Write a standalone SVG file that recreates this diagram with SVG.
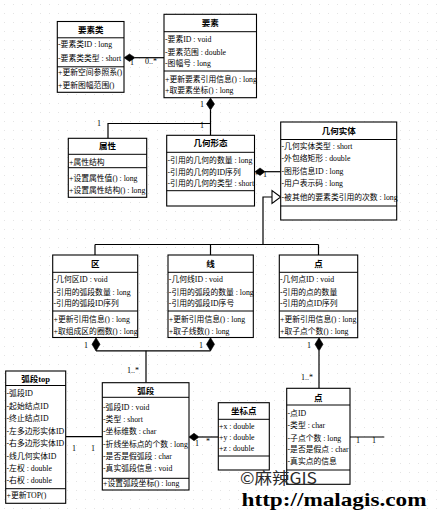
<svg xmlns="http://www.w3.org/2000/svg" width="441" height="512" viewBox="0 0 441 512">
<defs>
<pattern id="dots" width="9" height="9" patternUnits="userSpaceOnUse"><rect x="4" y="4" width="1" height="1" fill="#e4e4e4"/></pattern>
<style>
.bx{fill:#fff;stroke:#000;stroke-width:1.1}
.dv{stroke:#000;stroke-width:1}
text{font-family:"Liberation Serif","Noto Sans CJK SC",serif;fill:#000}
.t{font-size:8.5px;font-weight:bold;text-anchor:middle}
.a{font-size:7.8px}
.c{stroke:#000;stroke-width:1.2;fill:none}
.d{fill:#000;stroke:#000;stroke-width:0.6}
.g{fill:#fff;stroke:#000;stroke-width:1.1}
.l{font-size:8px}
</style>
</defs>
<rect width="441" height="512" fill="#fff"/>
<rect width="441" height="512" fill="url(#dots)"/>

<g id="connectors">
<polygon class="d" points="124,57.7 129.5,54 135,57.7 129.5,61.4"/>
<line class="c" x1="135" y1="57.7" x2="164" y2="57.7"/>
<text class="l" x="130" y="65">1</text>
<text class="l" x="145" y="64">0..*</text>
<polygon class="d" points="210.5,98 214.5,104 210.5,110 206.5,104"/>
<polyline class="c" points="210.5,110 210.5,123.5 108,123.5 108,138.3"/>
<line class="c" x1="210.5" y1="123.5" x2="210.5" y2="135.3"/>
<text class="l" x="200" y="107">1</text>
<text class="l" x="200" y="128">1</text>
<text class="l" x="97" y="126">1</text>
<polygon class="d" points="255,171.7 260,168 265,171.7 260,175.4"/>
<line class="c" x1="265" y1="171.7" x2="280.7" y2="171.7"/>
<text class="l" x="247" y="178">1..*</text>
<text class="l" x="263" y="177">1</text>
<polyline class="c" points="272,197 263,197 263,244.5"/>
<line class="c" x1="95" y1="244.5" x2="318.5" y2="244.5"/>
<line class="c" x1="95" y1="244.5" x2="95" y2="255"/>
<line class="c" x1="210.5" y1="244.5" x2="210.5" y2="255"/>
<line class="c" x1="318.5" y1="244.5" x2="318.5" y2="255"/>
<polygon class="g" points="280.7,197 272,190.5 272,203.5"/>
<polygon class="d" points="96,337.7 100,344.3 96,351 92,344.3"/>
<polygon class="d" points="210.5,337.7 214.5,344.3 210.5,351 206.5,344.3"/>
<line class="c" x1="96" y1="350.8" x2="210.5" y2="350.8"/>
<line class="c" x1="146" y1="350.8" x2="146" y2="382.7"/>
<text class="l" x="84" y="348">1</text>
<text class="l" x="199" y="348">1</text>
<text class="l" x="127" y="373">1..*</text>
<polygon class="d" points="319,337.7 323,344.3 319,351 315,344.3"/>
<line class="c" x1="319" y1="351" x2="319" y2="388.3"/>
<text class="l" x="307" y="348">1</text>
<text class="l" x="301" y="380">1..*</text>
<line class="c" x1="65.7" y1="436.7" x2="102.3" y2="436.7"/>
<text class="l" x="72" y="451">1</text>
<text class="l" x="91" y="451">1</text>
<polygon class="d" points="189,437 194,433.3 199,437 194,440.7"/>
<line class="c" x1="199" y1="437" x2="218.3" y2="437"/>
<text class="l" x="195" y="446">1</text>
<text class="l" x="206" y="444">*</text>
<line class="c" x1="350" y1="437" x2="384.3" y2="437"/>
<text class="l" x="356" y="443">1</text>
<text class="l" x="372" y="443">1</text>
</g>

<g id="n_yaosulei">
<rect class="bx" x="57.3" y="21.5" width="66.7" height="70.8"/>
<line class="dv" x1="57.3" y1="37.8" x2="124" y2="37.8"/>
<line class="dv" x1="57.3" y1="66.8" x2="124" y2="66.8"/>
<text class="t" x="90.7" y="33">要素类</text>
<text class="a" x="58" y="46.8">-要素类ID : long</text>
<text class="a" x="58" y="60.8">-要素类类型 : short</text>
<text class="a" x="58" y="75.3">+更新空间参照系()</text>
<text class="a" x="58" y="87.8">+更新图幅范围()</text>
</g>

<g id="n_yaosu">
<rect class="bx" x="164" y="14.3" width="92.5" height="83.4"/>
<line class="dv" x1="164" y1="31.7" x2="256.5" y2="31.7"/>
<line class="dv" x1="164" y1="71" x2="256.5" y2="71"/>
<text class="t" x="210.3" y="26">要素</text>
<text class="a" x="165" y="41.8">-要素ID : void</text>
<text class="a" x="165" y="54.5">-要素范围 : double</text>
<text class="a" x="165" y="66.1">-图幅号 : long</text>
<text class="a" x="165" y="81.8">+更新要素引用信息() : long</text>
<text class="a" x="165" y="93.1">+取要素坐标() : long</text>
</g>

<g id="n_shuxing">
<rect class="bx" x="68.3" y="138.3" width="78.4" height="59"/>
<line class="dv" x1="68.3" y1="154.3" x2="146.7" y2="154.3"/>
<line class="dv" x1="68.3" y1="167.7" x2="146.7" y2="167.7"/>
<text class="t" x="107.5" y="149">属性</text>
<text class="a" x="69" y="164.8">+属性结构</text>
<text class="a" x="69" y="180.8">+设置属性值() : long</text>
<text class="a" x="69" y="192.8">+设置属性结构() : long</text>
</g>

<g id="n_jihexingtai">
<rect class="bx" x="166.7" y="135.3" width="87.8" height="70.7"/>
<line class="dv" x1="166.7" y1="152.3" x2="254.5" y2="152.3"/>
<line class="dv" x1="166.7" y1="190.7" x2="254.5" y2="190.7"/>
<text class="t" x="210.6" y="146.3">几何形态</text>
<text class="a" x="167.5" y="162.8">-引用的几何的数量 : long</text>
<text class="a" x="167.5" y="174.8">-引用的几何的ID序列</text>
<text class="a" x="167.5" y="186.3">-引用的几何的类型 : short</text>
</g>

<g id="n_jiheshiti">
<rect class="bx" x="280.7" y="122" width="116" height="98"/>
<line class="dv" x1="280.7" y1="139.5" x2="396.7" y2="139.5"/>
<line class="dv" x1="280.7" y1="206" x2="396.7" y2="206"/>
<text class="t" x="338.7" y="134">几何实体</text>
<text class="a" x="281.5" y="148.8">-几何实体类型 : short</text>
<text class="a" x="281.5" y="161.3">-外包络矩形 : double</text>
<text class="a" x="281.5" y="174.3">-图形信息ID : long</text>
<text class="a" x="281.5" y="186.3">-用户表示码 : long</text>
<text class="a" x="281.5" y="199.8">-被其他的要素类引用的次数 : long</text>
</g>

<g id="n_qu">
<rect class="bx" x="52.7" y="255" width="85" height="82.5"/>
<line class="dv" x1="52.7" y1="272.3" x2="137.7" y2="272.3"/>
<line class="dv" x1="52.7" y1="311" x2="137.7" y2="311"/>
<text class="t" x="95.2" y="266.5">区</text>
<text class="a" x="53.5" y="282.1">-几何区ID : void</text>
<text class="a" x="53.5" y="294.5">-引用的弧段数量 : long</text>
<text class="a" x="53.5" y="306.3">-引用的弧段ID序列</text>
<text class="a" x="53.5" y="321.8">+更新引用信息() : long</text>
<text class="a" x="53.5" y="333.8">+取组成区的圈数() : long</text>
</g>

<g id="n_xian">
<rect class="bx" x="168" y="255" width="85.3" height="82.5"/>
<line class="dv" x1="168" y1="272.3" x2="253.3" y2="272.3"/>
<line class="dv" x1="168" y1="311" x2="253.3" y2="311"/>
<text class="t" x="210.6" y="266.5">线</text>
<text class="a" x="168.8" y="282.1">-几何线ID : void</text>
<text class="a" x="168.8" y="294.5">-引用的弧段的数量 : long</text>
<text class="a" x="168.8" y="306.3">-引用的弧段ID序号</text>
<text class="a" x="168.8" y="321.8">+更新引用信息() : long</text>
<text class="a" x="168.8" y="333.8">+取子线数() : long</text>
</g>

<g id="n_dian">
<rect class="bx" x="279.3" y="255" width="78.4" height="82.7"/>
<line class="dv" x1="279.3" y1="272.3" x2="357.7" y2="272.3"/>
<line class="dv" x1="279.3" y1="311" x2="357.7" y2="311"/>
<text class="t" x="318.5" y="266.5">点</text>
<text class="a" x="280" y="282.1">-几何点ID : void</text>
<text class="a" x="280" y="294.5">-引用的点的数量</text>
<text class="a" x="280" y="306.3">-引用的点ID序列</text>
<text class="a" x="280" y="321.8">+更新引用信息() : long</text>
<text class="a" x="280" y="333.8">+取子点个数() : long</text>
</g>

<g id="n_huduantop">
<rect class="bx" x="5.7" y="371" width="60" height="132.3"/>
<line class="dv" x1="5.7" y1="385.5" x2="65.7" y2="385.5"/>
<line class="dv" x1="5.7" y1="488.7" x2="65.7" y2="488.7"/>
<text class="t" x="35.7" y="382">弧段top</text>
<text class="a" x="6.5" y="396.1">-弧段ID</text>
<text class="a" x="6.5" y="408.8">-起始结点ID</text>
<text class="a" x="6.5" y="421.1">-终止结点ID</text>
<text class="a" x="6.5" y="433.5">-左多边形实体ID</text>
<text class="a" x="6.5" y="446.1">-右多边形实体ID</text>
<text class="a" x="6.5" y="458.5">-线几何实体ID</text>
<text class="a" x="6.5" y="471.1">-左权 : double</text>
<text class="a" x="6.5" y="483.1">-右权 : double</text>
<text class="a" x="6.5" y="498.1">+更新TOP()</text>
</g>

<g id="n_huduan">
<rect class="bx" x="102.3" y="382.7" width="86.7" height="107.3"/>
<line class="dv" x1="102.3" y1="397.3" x2="189" y2="397.3"/>
<line class="dv" x1="102.3" y1="478.3" x2="189" y2="478.3"/>
<text class="t" x="145.7" y="394">弧段</text>
<text class="a" x="103" y="409.5">-弧段ID : void</text>
<text class="a" x="103" y="421.8">-类型 : short</text>
<text class="a" x="103" y="433.8">-坐标维数 : char</text>
<text class="a" x="103" y="446.5">-折线坐标点的个数 : long</text>
<text class="a" x="103" y="458.8">-是否是假弧段 : char</text>
<text class="a" x="103" y="470.5">-真实弧段信息 : void</text>
<text class="a" x="103" y="486.1">+设置弧段坐标() : long</text>
</g>

<g id="n_zuobiaodian1">
<rect class="bx" x="218.3" y="402.7" width="51" height="67.3"/>
<line class="dv" x1="218.3" y1="419.3" x2="269.3" y2="419.3"/>
<line class="dv" x1="218.3" y1="456" x2="269.3" y2="456"/>
<text class="t" x="243.8" y="413.7">坐标点</text>
<text class="a" x="219" y="428.8">+x : double</text>
<text class="a" x="219" y="440.1">+y : double</text>
<text class="a" x="219" y="451.1">+z : double</text>
</g>

<g id="n_dian2">
<rect class="bx" x="286.7" y="388.3" width="63.3" height="96"/>
<line class="dv" x1="286.7" y1="405" x2="350" y2="405"/>
<line class="dv" x1="286.7" y1="470" x2="350" y2="470"/>
<text class="t" x="318.3" y="400.7">点</text>
<text class="a" x="287.5" y="415.5">-点ID</text>
<text class="a" x="287.5" y="427.8">-类型 : char</text>
<text class="a" x="287.5" y="440.5">-子点个数 : long</text>
<text class="a" x="287.5" y="452.1">-是否是假点 : char</text>
<text class="a" x="287.5" y="463.6">-真实点的信息</text>
</g>

<g id="watermark">
<text x="240" y="483.5" style="font-family:'Noto Sans CJK SC','Liberation Sans',sans-serif;font-size:16px;fill:#2a2a2a" textLength="77" lengthAdjust="spacingAndGlyphs">©麻辣GIS</text>
<text x="241.5" y="506" style="font-family:'Liberation Serif',serif;font-size:19px;font-weight:bold;fill:#000" textLength="185" lengthAdjust="spacingAndGlyphs">http://malagis.com</text>
</g>
</svg>
